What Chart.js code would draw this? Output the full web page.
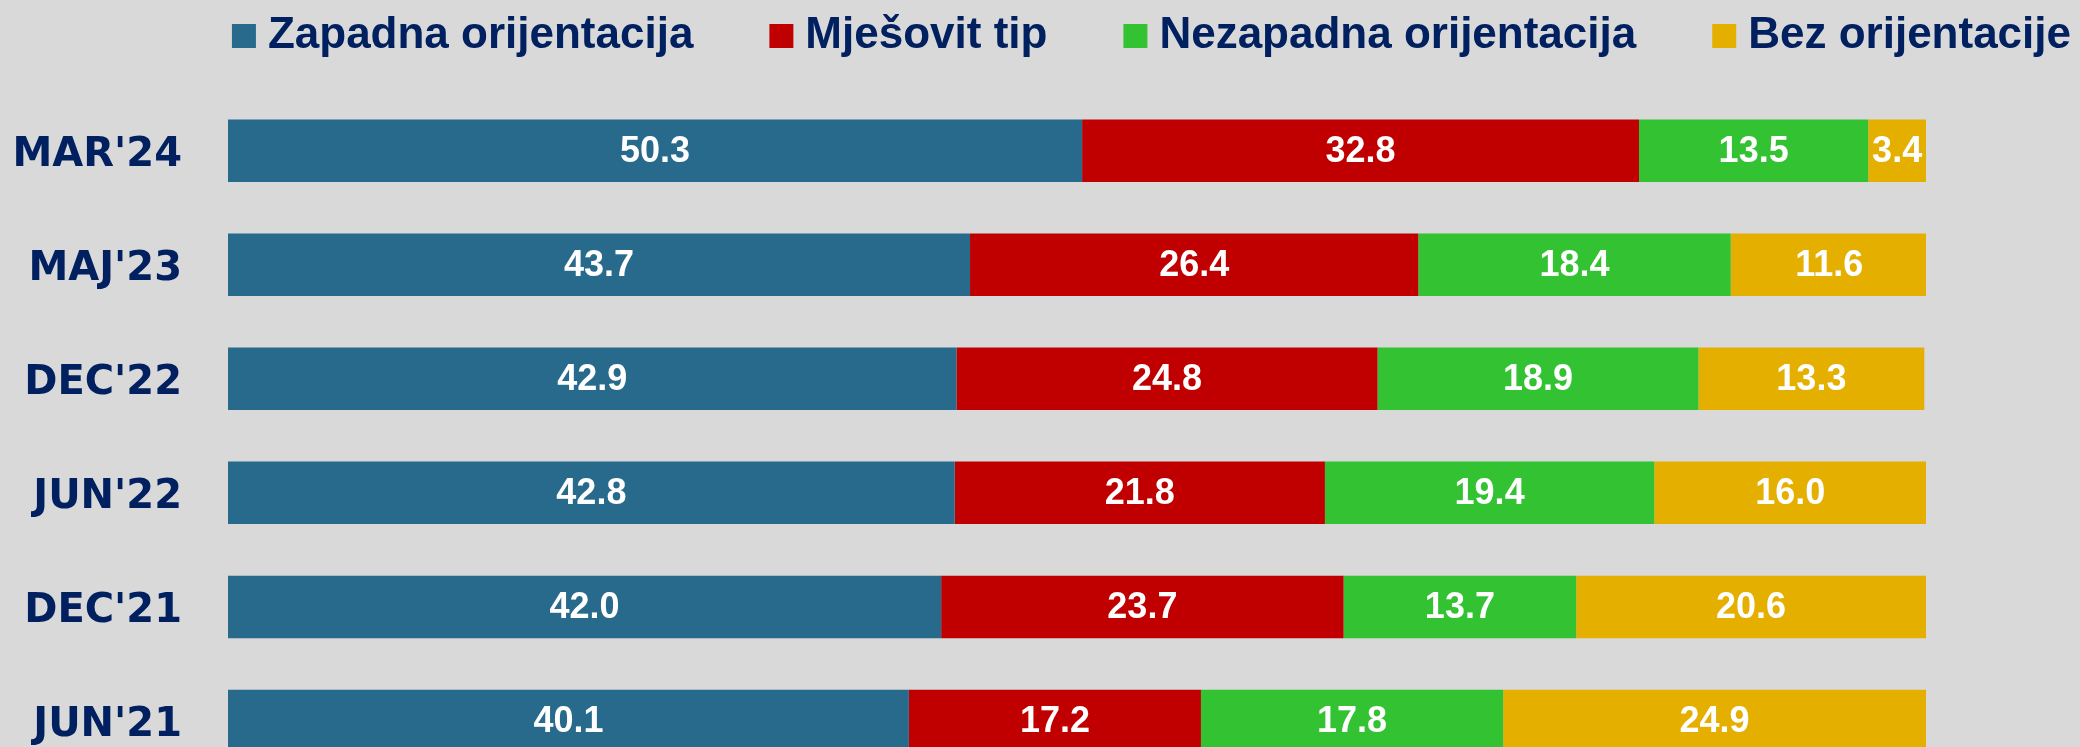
<!DOCTYPE html>
<html><head><meta charset="utf-8">
<script src="https://cdn.jsdelivr.net/npm/chart.js@4.4.1/dist/chart.umd.min.js"></script>
<style>html,body{margin:0;padding:0;background:#d9d9d9;overflow:hidden}#wrap{width:2080px;height:747px;overflow:hidden}</style>
</head><body><div id="wrap"><canvas id="c" width="2080" height="790"></canvas></div>
<script>
const categories = ["MAR'24","MAJ'23","DEC'22","JUN'22","DEC'21","JUN'21"];
const seriesNames = ["Zapadna orijentacija","Mješovit tip","Nezapadna orijentacija","Bez orijentacije"];
const zapadna = [50.3,43.7,42.9,42.8,42.0,40.1];
const mjesovit = [32.8,26.4,24.8,21.8,23.7,17.2];
const nezapadna = [13.5,18.4,18.9,19.4,13.7,17.8];
const bez = [3.4,11.6,13.3,16.0,20.6,24.9];
const seriesColors = ["#276A8C","#C00000","#32C232","#E5AF00"];
const NAVY = "#002060";

const seriesValues = [zapadna, mjesovit, nezapadna, bez];

const valueLabels = {
  id: 'valueLabels',
  afterDatasetsDraw(chart) {
    const ctx = chart.ctx;
    ctx.save();
    ctx.font = "bold 36px 'Liberation Sans'";
    ctx.fillStyle = "#ffffff";
    ctx.textAlign = 'center';
    ctx.textBaseline = 'middle';
    chart.data.datasets.forEach((ds, i) => {
      const meta = chart.getDatasetMeta(i);
      meta.data.forEach((el, j) => {
        const p = el.getProps(['x', 'y', 'base'], true);
        ctx.fillText(Number(ds.data[j]).toFixed(1), (p.x + p.base) / 2, p.y + 1);
      });
    });
    ctx.restore();
  }
};

new Chart(document.getElementById('c'), {
  type: 'bar',
  data: {
    labels: categories,
    datasets: seriesNames.map((name, i) => ({
      label: name,
      data: seriesValues[i],
      backgroundColor: seriesColors[i],
      borderWidth: 0,
      barPercentage: 0.548,
      categoryPercentage: 1
    }))
  },
  options: {
    indexAxis: 'y',
    responsive: false,
    animation: false,
    layout: { autoPadding: false, padding: { top: -72, left: 0, right: -77, bottom: 12 } },
    plugins: {
      legend: {
        display: true, position: 'top', align: 'end',
        labels: {
          usePointStyle: true, pointStyle: 'rect', boxWidth: 4, boxHeight: 24, padding: 86,
          color: NAVY, font: { family: "'Liberation Sans'", size: 44, weight: 'bold' }
        }
      },
      tooltip: { enabled: false }
    },
    scales: {
      x: {
        type: 'linear', position: 'top', stacked: true, min: 0, max: 100,
        grid: { display: false, drawTicks: false }, border: { display: false },
        ticks: { display: false },
        afterFit(s) { s.height = 25.6; }
      },
      y: {
        type: 'category', stacked: true,
        grid: { display: false, drawTicks: false }, border: { display: false },
        ticks: { color: NAVY, padding: 46, labelOffset: 5, font: { family: "'DejaVu Sans'", size: 40, weight: 'bold' } },
        afterFit(s) { s.width = 228; s.paddingTop = 0; s.paddingBottom = 0; }
      },
      yr: {
        type: 'linear', position: 'right', display: true,
        grid: { display: false, drawTicks: false }, border: { display: false },
        ticks: { display: false },
        afterFit(s) { s.width = 231; }
      }
    }
  },
  plugins: [valueLabels]
});
</script></body></html>
